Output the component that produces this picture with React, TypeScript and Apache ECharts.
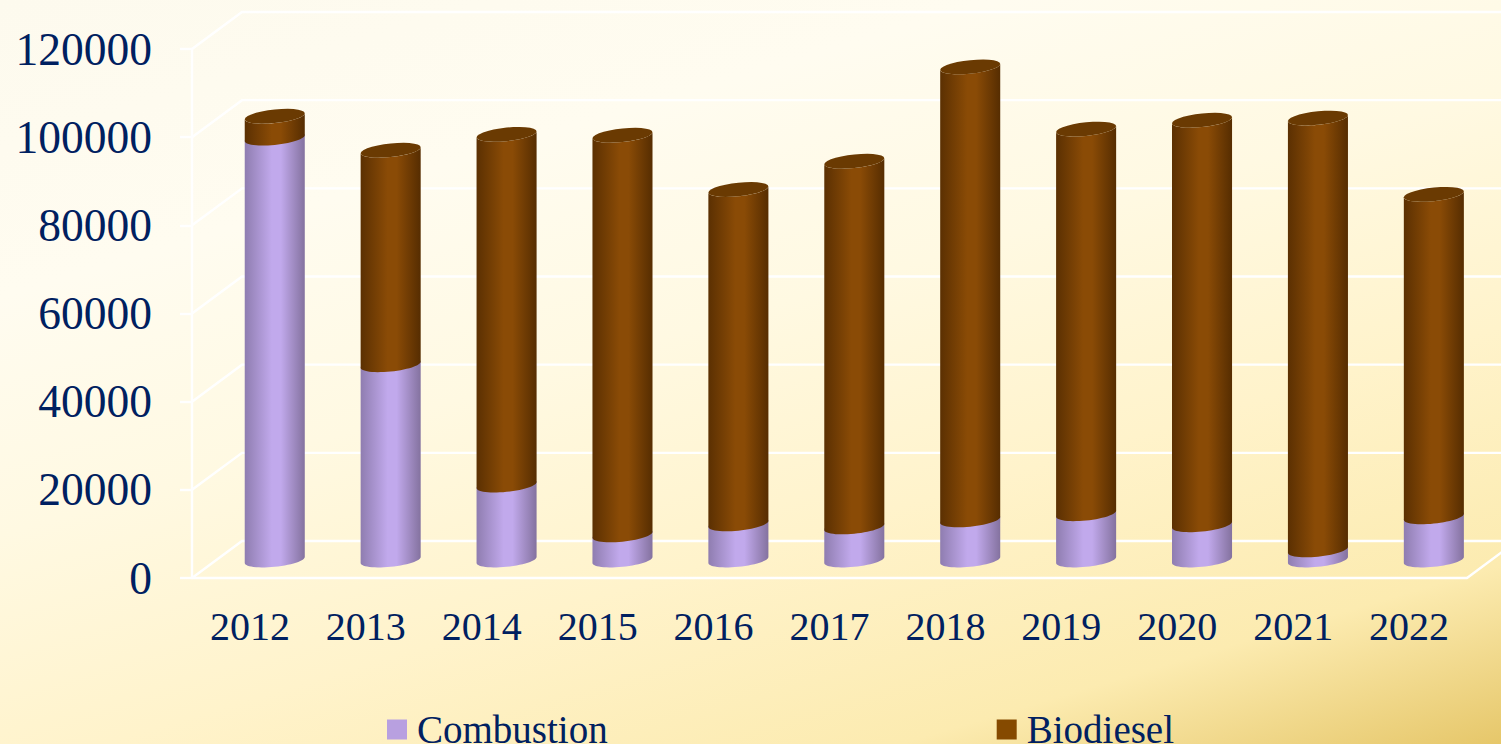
import React, { useEffect, useRef } from "react";
import * as echarts from "echarts";

const years = ["2012", "2013", "2014", "2015", "2016", "2017", "2018", "2019", "2020", "2021", "2022"];
const combustion = [95700, 44300, 17000, 5700, 8200, 7500, 9100, 10500, 8000, 2300, 9800];
const biodiesel = [4950, 48650, 79550, 90650, 75850, 82950, 102750, 87250, 91750, 97950, 73150];
const yTicks = [0, 20000, 40000, 60000, 80000, 100000, 120000];

const FONT = "'Liberation Serif', serif";
const TEXT = "#002060";
const LINE = "#ffffff";
const LINE_W = 2.4;
const DX = 50;
const DY = -37;
const MID_DX = 24.8;
const MID_DY = -18;
const B = 6.8;
const SLOPE = 0.1;
const RATIO = 0.259;

const ring = (cx: number, cy: number, a: number, from: number, to: number) => {
  const pts: number[][] = [];
  const n = 28;
  for (let i = 0; i <= n; i++) {
    const t = from + ((to - from) * i) / n;
    pts.push([cx + a * Math.cos(t), cy + B * Math.sin(t) - SLOPE * a * Math.cos(t)]);
  }
  return pts;
};

const hGrad = (edgeL: string, mid: string, edgeR: string) =>
  new echarts.graphic.LinearGradient(0, 0, 1, 0, [
    { offset: 0, color: edgeL },
    { offset: 0.45, color: mid },
    { offset: 0.6, color: mid },
    { offset: 1, color: edgeR },
  ]);

const cylinder = (kind: "low" | "high") => (_p: any, api: any) => {
  const i = api.value(0);
  const a = api.size([1, 0])[0] * RATIO;
  const base = api.coord([i, api.value(1)]);
  const top = api.coord([i, api.value(2)]);
  const cx = base[0] + MID_DX;
  const y0 = base[1] + MID_DY;
  const y1 = top[1] + MID_DY;
  const bottomArc = ring(cx, y0, a, Math.PI, 0);
  if (kind === "low") {
    const topArc = ring(cx, y1, a, 0, -Math.PI);
    return {
      type: "polygon",
      shape: { points: [...bottomArc, ...topArc] },
      style: { fill: hGrad("#8f7db0", "#c1a9ec", "#84729f"), stroke: null },
    };
  }
  const frontTop = ring(cx, y1, a, 0, Math.PI);
  const whole = ring(cx, y1, a, 0, Math.PI * 2);
  return {
    type: "group",
    children: [
      {
        type: "polygon",
        shape: { points: [...bottomArc, ...frontTop] },
        style: { fill: hGrad("#5b3002", "#8a4b06", "#562d01") },
      },
      {
        type: "polygon",
        shape: { points: whole },
        style: { fill: "#6a3a02" },
      },
    ],
  };
};

const walls = (p: any, api: any) => {
  const v = api.value(1);
  const y = api.coord([0, v])[1];
  const xl = p.coordSys.x;
  const xr = xl + p.coordSys.width;
  const lineStyle = { stroke: LINE, lineWidth: LINE_W, fill: "none" };
  const children: any[] = [
    {
      type: "polyline",
      shape: { points: [[xl, y], [xl + DX, y + DY], [xr + DX, y + DY]] },
      style: lineStyle,
    },
  ];
  if (v === 0) {
    children.push({
      type: "line",
      shape: { x1: xr, y1: y, x2: xr + DX, y2: y + DY },
      style: lineStyle,
    });
  }
  return { type: "group", children };
};

export default function App() {
  const ref = useRef<HTMLDivElement>(null);
  useEffect(() => {
    document.body.style.margin = "0";
    const chart = echarts.init(ref.current!, null, { renderer: "svg" });
    const lowData = combustion.map((c, i) => [i, 0, c]);
    const highData = biodiesel.map((b, i) => [i, combustion[i], combustion[i] + b]);
    chart.setOption({
      animation: false,
      backgroundColor: new echarts.graphic.LinearGradient(0, 0, 0.706, 1.176, [
        { offset: 0, color: "#fdfaee" },
        { offset: 0.25, color: "#fffcf0" },
        { offset: 0.45, color: "#fff9e2" },
        { offset: 0.65, color: "#fff3cb" },
        { offset: 0.85, color: "#fcebb0" },
        { offset: 1, color: "#e6c76a" },
      ]),
      grid: { left: 192, right: 34, top: 49, bottom: 166 },
      legend: {
        left: 387,
        top: 710,
        padding: 0,
        itemWidth: 20,
        itemHeight: 20,
        itemGap: 389,
        data: [
          { name: "Combustion", icon: "rect", itemStyle: { color: "#b8a0e0" } },
          { name: "Biodiesel", icon: "rect", itemStyle: { color: "#854a00" } },
        ],
        textStyle: { fontFamily: FONT, fontSize: 39, lineHeight: 30, color: TEXT, padding: [0, 0, 0, 5] },
      },
      xAxis: {
        type: "category",
        data: years,
        axisLine: { lineStyle: { color: LINE, width: LINE_W } },
        axisTick: { length: 12, lineStyle: { color: LINE, width: LINE_W } },
        axisLabel: { fontFamily: FONT, fontSize: 40, color: TEXT, margin: 28 },
        splitLine: { show: false },
      },
      yAxis: {
        type: "value",
        min: 0,
        max: 120000,
        interval: 20000,
        axisLine: { show: true, lineStyle: { color: LINE, width: LINE_W } },
        axisTick: { show: true, length: 12, lineStyle: { color: LINE, width: LINE_W } },
        axisLabel: {
          fontFamily: FONT,
          fontSize: 45.5,
          color: TEXT,
          margin: 40,
          formatter: (v: number) => String(v),
        },
        splitLine: { show: false },
      },
      series: [
        {
          type: "custom",
          name: "walls",
          renderItem: walls,
          data: yTicks.map((v) => [0, v]),
          encode: { x: 0, y: 1 },
          silent: true,
          z: 1,
        },
        {
          type: "custom",
          name: "Combustion",
          renderItem: cylinder("low"),
          data: lowData,
          encode: { x: 0, y: [1, 2] },
          itemStyle: { color: "#b8a0e0" },
          z: 3,
        },
        {
          type: "custom",
          name: "Biodiesel",
          renderItem: cylinder("high"),
          data: highData,
          encode: { x: 0, y: [1, 2] },
          itemStyle: { color: "#854a00" },
          z: 4,
        },
      ],
    });
    return () => chart.dispose();
  }, []);
  return <div ref={ref} style={{ width: 1501, height: 744 }} />;
}
